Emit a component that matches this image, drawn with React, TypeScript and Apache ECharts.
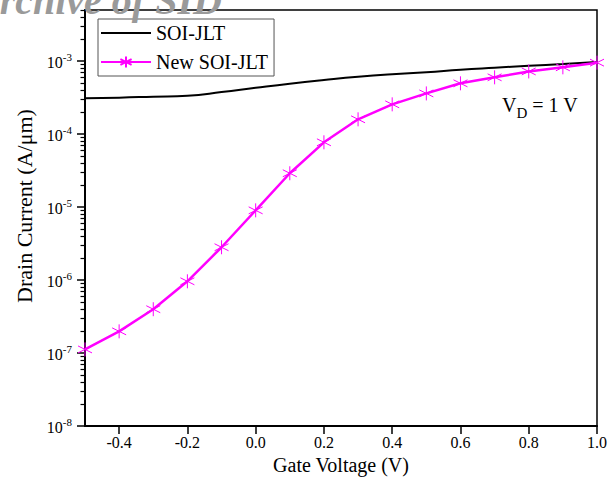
import React, { useEffect, useRef } from "react";
import * as echarts from "echarts";

const FONT = "Liberation Serif, Times New Roman, serif";

// Gate voltage (V)
const gateVoltage = [-0.5, -0.4, -0.3, -0.2, -0.1, 0.0, 0.1, 0.2, 0.3, 0.4, 0.5, 0.6, 0.7, 0.8, 0.9, 1.0];
// Drain current (A/µm)
const soiJlt = [3.1e-4, 3.15e-4, 3.25e-4, 3.35e-4, 3.75e-4, 4.3e-4, 4.9e-4, 5.5e-4, 6.1e-4, 6.6e-4, 7.0e-4, 7.6e-4, 8.1e-4, 8.6e-4, 9.1e-4, 9.7e-4];
const newSoiJlt = [1.12e-7, 1.98e-7, 3.98e-7, 9.6e-7, 2.81e-6, 9.0e-6, 2.9e-5, 7.7e-5, 1.59e-4, 2.55e-4, 3.6e-4, 4.95e-4, 5.98e-4, 7.2e-4, 8.2e-4, 9.5e-4];

const xTicks = [-0.4, -0.2, 0.0, 0.2, 0.4, 0.6, 0.8, 1.0];
const yDecades = [-8, -7, -6, -5, -4, -3]; // log10 of major ticks
const yMinLog = -8;
const yMaxLog = Math.log10(5e-3);

const seriesNames = ["SOI-JLT", "New SOI-JLT"];

function minorTicks(): number[] {
  const out: number[] = [];
  for (const d of yDecades) {
    for (let k = 2; k <= 9; k++) {
      const v = Math.log10(k) + d;
      if (v <= yMaxLog + 1e-9) out.push(v);
    }
  }
  return out;
}

const ASTERISK = "path://M0,-10L0,10M-8.66,-5L8.66,5M-8.66,5L8.66,-5";

export default function App() {
  const ref = useRef<HTMLDivElement>(null);
  useEffect(() => {
    if (!ref.current) return;
    const chart = echarts.init(ref.current, undefined, { renderer: "svg" });
    const toPts = (ys: number[]) => gateVoltage.map((x, i) => [x, Math.log10(ys[i])]);
    chart.setOption({
      animation: false,
      backgroundColor: "#fff",
      textStyle: { fontFamily: FONT },
      grid: {
        left: 85,
        right: 12,
        top: 10,
        bottom: 64,
        show: true,
        borderColor: "#000",
        borderWidth: 1.5,
        backgroundColor: "transparent",
      },
      legend: {
        orient: "vertical",
        left: 98,
        top: 19,
        padding: [4, 6, 4, 2],
        itemGap: 9,
        itemWidth: 50,
        itemHeight: 14,
        borderColor: "#555",
        borderWidth: 1,
        textStyle: { fontSize: 20, fontFamily: FONT, color: "#000" },
        data: [
          { name: seriesNames[0], itemStyle: { opacity: 0 } },
          { name: seriesNames[1] },
        ],
      },
      xAxis: {
        type: "value",
        min: -0.5,
        max: 1.0,
        name: "Gate Voltage (V)",
        nameLocation: "middle",
        nameGap: 29,
        nameTextStyle: { fontSize: 20, fontFamily: FONT, color: "#000" },
        axisLine: { show: true, onZero: false, lineStyle: { color: "#000", width: 2 } },
        axisTick: { show: true, length: 8, lineStyle: { color: "#000", width: 1.5 }, customValues: xTicks },
        axisLabel: {
          fontSize: 16,
          fontFamily: FONT,
          color: "#000",
          margin: 8,
          customValues: xTicks,
          formatter: (v: number) => v.toFixed(1),
        },
        splitLine: { show: false },
      },
      yAxis: [
        {
          type: "value",
          min: yMinLog,
          max: yMaxLog,
          name: "Drain Current (A/\u03bcm)",
          nameLocation: "middle",
          nameGap: 41,
          nameTextStyle: { fontSize: 22, fontFamily: FONT, color: "#000", padding: [0, 0, 0, 24] },
          axisLine: { show: true, onZero: false, lineStyle: { color: "#000", width: 2 } },
          axisTick: { show: true, length: 8, lineStyle: { color: "#000", width: 1.5 }, customValues: yDecades },
          axisLabel: {
            margin: 13,
            customValues: yDecades,
            formatter: (v: number) => `{b|10}{s|${Math.round(v)}}`,
            rich: {
              b: { fontSize: 16, fontFamily: FONT, color: "#000", padding: [3, 0, 0, 0] },
              s: { fontSize: 11, fontFamily: FONT, color: "#000", verticalAlign: "top" },
            },
          },
          splitLine: { show: false },
        },
        {
          type: "value",
          min: yMinLog,
          max: yMaxLog,
          position: "left",
          axisLine: { show: false, onZero: false },
          axisLabel: { show: false },
          axisTick: { show: true, length: 4.5, lineStyle: { color: "#000", width: 1.2 }, customValues: minorTicks() },
          splitLine: { show: false },
        },
      ],
      graphic: [
        {
          type: "text",
          x: -27,
          y: 0,
          z: 100,
          style: {
            text: "Archive of SID",
            font: `italic bold 40px ${FONT}`,
            fill: "#9a9a9a",
            verticalAlign: "middle",
          },
        },
        {
          type: "text",
          x: 502,
          y: 100,
          z: 50,
          style: {
            text: "{a|V}{d|D}{a| = 1 V}",
            fill: "#000",
            rich: {
              a: { fontSize: 20, fontFamily: FONT, color: "#000", lineHeight: 20, padding: [0, 0, 10, 0] },
              d: { fontSize: 15, fontFamily: FONT, color: "#000", lineHeight: 15, verticalAlign: "bottom" },
            },
          },
        },
      ],
      series: [
        {
          name: seriesNames[0],
          type: "line",
          data: toPts(soiJlt),
          yAxisIndex: 0,
          smooth: true,
          symbol: "none",
          showSymbol: false,
          lineStyle: { color: "#000", width: 2 },
          itemStyle: { color: "#000" },
        },
        {
          name: seriesNames[1],
          type: "line",
          data: toPts(newSoiJlt),
          yAxisIndex: 0,
          symbol: ASTERISK,
          symbolSize: 14,
          lineStyle: { color: "#ff00ff", width: 2.5 },
          itemStyle: { color: "#ff00ff", borderColor: "#ff00ff", borderWidth: 1 },
        },
      ],
    });
    return () => chart.dispose();
  }, []);
  return <div ref={ref} style={{ position: "fixed", left: 0, top: 0, width: 610, height: 490 }} />;
}
